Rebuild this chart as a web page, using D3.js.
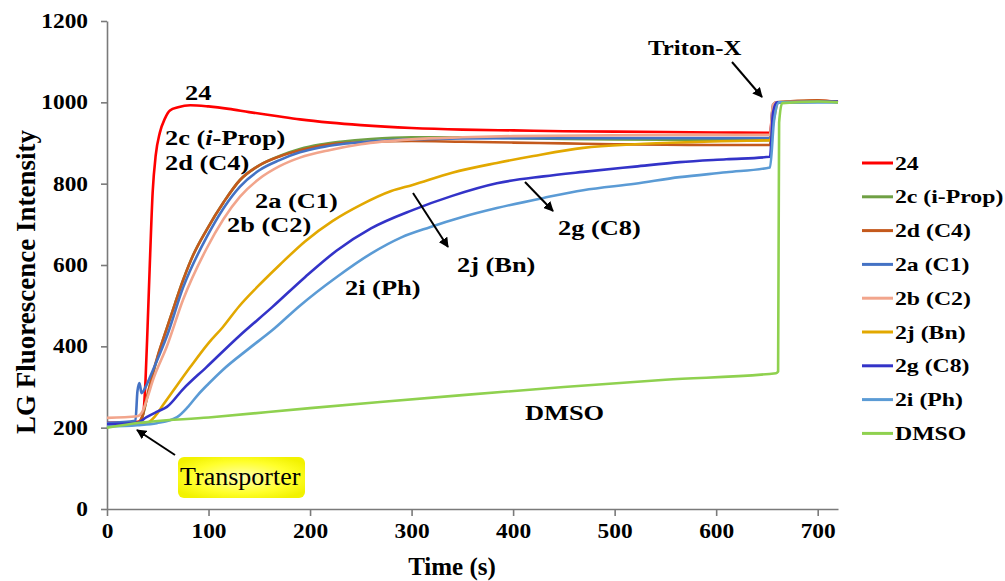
<!DOCTYPE html>
<html><head><meta charset="utf-8">
<script src="https://cdn.jsdelivr.net/npm/d3@7"></script>
<style>
html,body{margin:0;padding:0;background:#fff;}
svg text{font-family:"Liberation Serif","Times New Roman","DejaVu Serif",serif !important;}
</style></head>
<body>
<svg id="chart" width="1005" height="581"></svg>
<script>
// ---- data ----
const seriesNames = ["24","2c (i-Prop)","2d (C4)","2a (C1)","2b (C2)","2j (Bn)","2g (C8)","2i (Ph)","DMSO"];
const seriesColors = ["#ff0000","#6fa044","#c4591c","#4472c4","#f2a58c","#e2a800","#3333c8","#5b9bd5","#8fd14f"];

const t24 = [0,20,33,36,38,40,42,45,48,52,57,62,70,82,100,120,140,165,190,220,250,300,350,400,450,500,550,600,653,656,659,680,700,720];
const v24 = [212,213,216,240,320,450,590,780,870,925,960,980,988,993,990,984,976,967,958,950,944,937,933,931,929,928,927,926,925,990,1000,1002,1004,1002];

const t2c = [0,30,35,40,45,50,59,67,75,85,98,115,131,150,170,190,210,230,260,300,350,400,450,500,550,600,653,656,660,700,720];
const v2c = [205,210,228,280,330,375,445,505,563,625,686,755,809,845,868,885,896,903,910,914,914,912,910,909,908,907,907,985,1000,1003,1001];

const t2d = [0,30,35,40,45,50,59,67,75,85,98,115,131,150,170,190,210,230,260,300,350,400,450,500,550,600,653,656,660,700,720];
const v2d = [207,212,230,282,332,377,445,505,563,625,686,755,809,845,867,882,893,899,903,905,903,901,899,897,896,895,895,980,1000,1005,1000];

const t2a = [0,28,30,32,34,38,45,59,75,98,131,150,170,190,210,230,260,300,400,500,600,653,656,660,720];
const v2a = [212,217,290,310,285,300,340,425,545,668,793,833,858,877,889,897,904,909,912,912,912,912,995,1000,1002];

const t2b = [0,30,35,40,45,59,75,98,131,150,170,190,220,250,300,350,400,500,600,653,656,660,720];
const v2b = [224,228,240,275,315,400,515,640,768,812,843,864,883,897,909,914,917,919,920,920,995,1001,1002];

const t2j = [0,40,48,55,65,82,100,114,130,148,170,195,222,250,280,301,340,384,420,469,520,570,620,653,657,661,720];
const v2j = [205,213,230,255,290,349,408,447,498,546,600,658,708,748,782,797,827,851,868,888,897,902,905,907,960,1000,1002];

const t2g = [0,30,39,50,59,75,98,130,163,195,226,260,301,340,384,430,469,520,564,610,653,656,660,720];
const v2g = [208,212,226,240,251,295,349,425,497,570,635,690,735,770,801,818,829,842,853,860,866,975,1000,1002];

const t2i = [0,30,49,69,80,90,100,114,140,163,190,226,260,290,318,350,384,430,469,520,564,610,653,657,662,720];
const v2i = [203,206,211,226,252,282,308,342,395,440,500,570,628,668,693,718,740,765,784,800,816,828,840,955,1000,1000];

const tDM = [0,32,100,200,269,350,450,550,659,661,662,665,700,720];
const vDM = [200,212,225,248,263,280,300,318,334,338,950,998,1002,1000];

const seriesTimes = [t24,t2c,t2d,t2a,t2b,t2j,t2g,t2i,tDM];
const seriesValues = [v24,v2c,v2d,v2a,v2b,v2j,v2g,v2i,vDM];

const xTicks = [0,100,200,300,400,500,600,700];
const yTicks = [0,200,400,600,800,1000,1200];

// ---- chart ----
const FONT = '"Liberation Serif","Times New Roman","DejaVu Serif",serif';
const svg = d3.select("#chart");
const x = d3.scaleLinear().domain([0,720]).range([107,838]);
const y = d3.scaleLinear().domain([0,1200]).range([509,21]);
const axisColor = "#7a7a7a";

svg.append("defs").html(`
  <marker id="arr" viewBox="0 0 10 10" refX="9" refY="5" markerWidth="5" markerHeight="5" orient="auto-start-reverse" markerUnits="strokeWidth">
    <path d="M0,0 L10,5 L0,10 z" fill="#000"/>
  </marker>
  <radialGradient id="yel" cx="50%" cy="50%" r="60%">
    <stop offset="0%" stop-color="#ffffb0"/>
    <stop offset="65%" stop-color="#ffff2a"/>
    <stop offset="100%" stop-color="#f2f200"/>
  </radialGradient>`);

// axes
const gx = svg.append("g").attr("transform",`translate(0,${y(0)})`)
  .call(d3.axisBottom(x).tickValues(xTicks).tickFormat(d3.format("d")).tickSize(7).tickSizeOuter(0));
const gy = svg.append("g").attr("transform",`translate(${x(0)},0)`)
  .call(d3.axisLeft(y).tickValues(yTicks).tickFormat(d3.format("d")).tickSize(6).tickSizeOuter(0));
[gx,gy].forEach(g=>{
  g.attr("font-family",FONT);
  g.select(".domain").attr("stroke",axisColor).attr("stroke-width",1.6);
  g.selectAll(".tick line").attr("stroke",axisColor).attr("stroke-width",1.6);
  g.selectAll(".tick text").attr("fill","#000").style("font-family",FONT)
   .style("font-size","20px").style("font-weight","bold");
});
gx.selectAll(".tick text").attr("y",29).attr("dy",null).attr("transform","scale(1.17,1)");
gy.selectAll(".tick text").attr("x",-16.2).attr("dy","0.32em").attr("transform","scale(1.17,1)");

// axis titles
svg.append("text").attr("x",452).attr("y",575).attr("text-anchor","middle").style("font-family",FONT)
  .style("font-size","25px").style("font-weight","bold").text("Time (s)");
svg.append("text").attr("transform","translate(35,282) rotate(-90)").attr("text-anchor","middle").style("font-family",FONT)
  .style("font-size","27px").style("font-weight","bold").text("LG Fluorescence Intensity");

// lines
const line = d3.line().x(d=>x(d[0])).y(d=>y(d[1])).curve(d3.curveMonotoneX);
seriesNames.forEach((n,i)=>{
  const pts = seriesTimes[i].map((t,j)=>[t,seriesValues[i][j]]);
  svg.append("path").datum(pts).attr("d",line).attr("fill","none")
    .attr("stroke",seriesColors[i]).attr("stroke-width",2.6).attr("stroke-linejoin","round");
});

// text helper
function label(x0,y0,str,size,sx,opts={}){
  const t = svg.append("text").attr("transform",`translate(${x0},${y0}) scale(${sx},1)`).style("font-family",FONT)
    .style("font-size",size+"px").style("font-weight",opts.weight||"bold").attr("fill","#000");
  if(opts.parts){ opts.parts.forEach(p=>t.append("tspan").style("font-style",p[1]?"italic":"normal").text(p[0])); }
  else t.text(str);
  return t;
}

// annotations
label(185,100,"24",22,1.2);
label(165,145,null,22,1.2,{parts:[["2c (",false],["i",true],["-Prop)",false]]});
label(165,170,"2d (C4)",22,1.2);
label(255,208,"2a (C1)",22,1.2);
label(227,232,"2b (C2)",22,1.2);
label(457,272,"2j (Bn)",22,1.2);
label(345,295,"2i (Ph)",22,1.2);
label(558,235,"2g (C8)",22,1.2);
label(525,420,"DMSO",22,1.2);
label(648,55,"Triton-X",22,1.13);

// arrows
const arrows = [[[732,62],[762,97]],[[413,193],[448,247]],[[525,182],[553,211]],[[175,455],[137,430]]];
arrows.forEach(a=>svg.append("line").attr("x1",a[0][0]).attr("y1",a[0][1]).attr("x2",a[1][0]).attr("y2",a[1][1])
  .attr("stroke","#000").attr("stroke-width",2).attr("marker-end","url(#arr)"));

// Transporter box
svg.append("rect").attr("x",178).attr("y",457).attr("width",127).attr("height",41).attr("rx",6)
  .attr("fill","url(#yel)");
svg.append("text").attr("x",180).attr("y",485).style("font-family",FONT).style("font-size","26px").style("font-weight","normal").text("Transporter");

// legend
const lg = svg.append("g");
seriesNames.forEach((n,i)=>{
  const cy = 163 + i*33.8;
  lg.append("line").attr("x1",862).attr("x2",893).attr("y1",cy).attr("y2",cy)
    .attr("stroke",seriesColors[i]).attr("stroke-width",3);
  lg.append("text").attr("transform",`translate(895,${cy+6.5}) scale(1.25,1)`).style("font-family",FONT)
    .style("font-size","19px").style("font-weight","bold").text(n);
});
</script>
</body></html>
